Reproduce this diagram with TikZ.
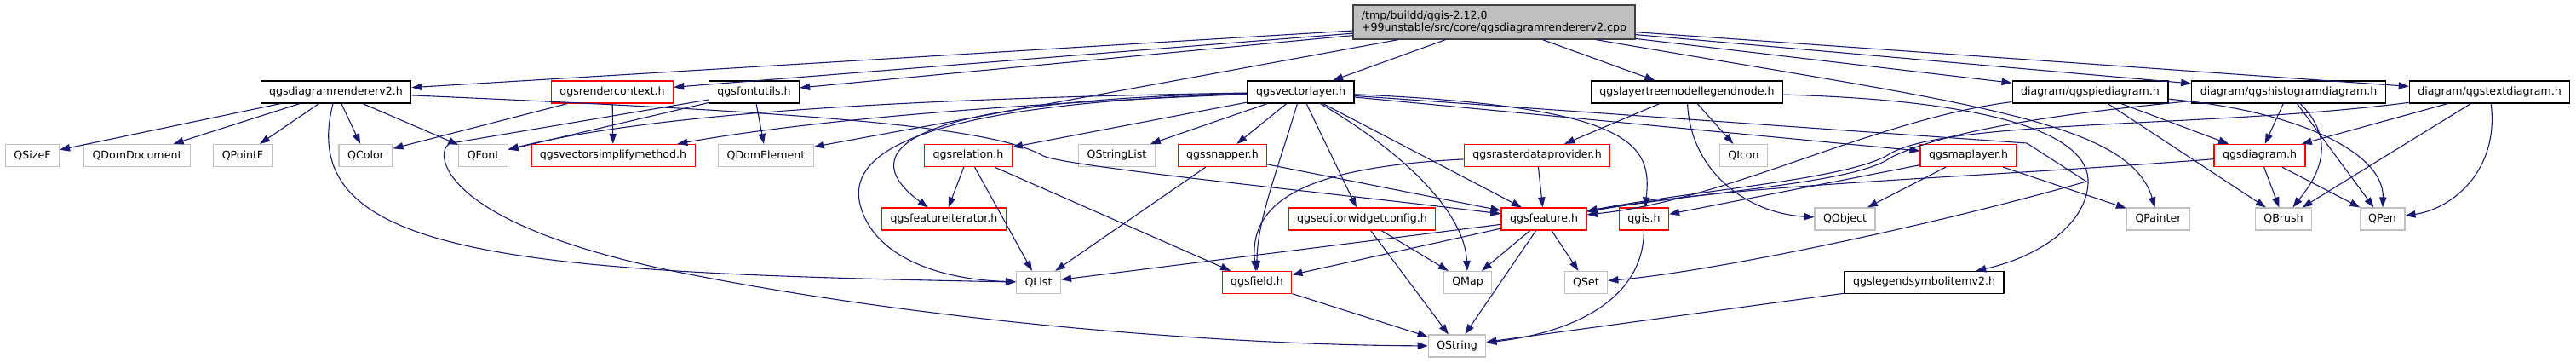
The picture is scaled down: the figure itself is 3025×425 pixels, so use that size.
\documentclass[tikz,border=0pt]{standalone}
\usepackage{fontspec}
\setmainfont{DejaVu Sans}
\usetikzlibrary{arrows.meta}
\definecolor{edgeblue}{HTML}{191970}
\definecolor{sysgrey}{HTML}{BFBFBF}
\definecolor{srcfill}{HTML}{BFBFBF}

\begin{document}
\begin{tikzpicture}[x=0.5pt, y=-0.5pt,
  every node/.style={font=\fontsize{6.3pt}{7pt}\selectfont},
  filebox/.style={draw, fill=white, line width=0.6pt, minimum height=13pt,
    inner xsep=5pt, inner ysep=0pt},
  hdrbox/.style={filebox, draw=black},
  redbox/.style={filebox, draw=red},
  sysbox/.style={filebox, draw=sysgrey},
  srcbox/.style={filebox, draw=black!75, fill=srcfill, align=left,
    minimum height=20pt},
  incl/.style={draw=edgeblue, line width=0.55pt,
    -{Triangle[length=6pt,width=4.2pt]}}]

\useasboundingbox (0,0) rectangle (3025,425);

\node[srcbox] (src) at (1754.5,26)
  {/tmp/buildd/qgis-2.12.0\\+99unstable/src/core/qgsdiagramrendererv2.cpp};

% black: headers, red: headers with hidden includes, grey: Qt classes
\foreach \nm/\x/\y/\txt in {%
  dr2/394.5/108/qgsdiagramrendererv2.h,
  futil/885.5/108/qgsfontutils.h,
  vlayer/1527.5/108/qgsvectorlayer.h,
  ltml/1981/108/qgslayertreemodellegendnode.h,
  legsym/2259.5/331.5/qgslegendsymbolitemv2.h%
}{
  \node[hdrbox] (\nm) at (\x,\y) {\txt};
}
\node[hdrbox] (pie)  at (2454.5,108) {diagram/qgspiediagram.h};
\node[hdrbox] (hist) at (2687.5,108) {diagram/qgshistogramdiagram.h};
\node[hdrbox] (text) at (2923.5,108) {diagram/qgstextdiagram.h};

\foreach \nm/\x/\y/\txt in {%
  rctx/719/108/qgsrendercontext.h,
  vsimp/720/182.5/qgsvectorsimplifymethod.h,
  rel/1137/182.5/qgsrelation.h,
  snap/1435.5/182.5/qgssnapper.h,
  raster/1805/182.5/qgsrasterdataprovider.h,
  maplayer/2311.5/182.5/qgsmaplayer.h,
  diag/2653.5/182.5/qgsdiagram.h,
  fiter/1108.5/257/qgsfeatureiterator.h,
  edcfg/1599.5/257/qgseditorwidgetconfig.h,
  feat/1813/257/qgsfeature.h,
  qgis/1930.5/257/qgis.h,
  field/1476/331.5/qgsfield.h%
}{
  \node[redbox] (\nm) at (\x,\y) {\txt};
}

\foreach \nm/\x/\y/\txt in {%
  qsizef/38/182.5/QSizeF,
  qdomdoc/161/182.5/QDomDocument,
  qpointf/285/182.5/QPointF,
  qcolor/429.5/182.5/QColor,
  qfont/567.5/182.5/QFont,
  qdomel/899.5/182.5/QDomElement,
  qstrlist/1311.5/182.5/QStringList,
  qicon/2047.5/182.5/QIcon,
  qobject/2166.5/257/QObject,
  qpainter/2534.5/257/QPainter,
  qbrush/2681.5/257/QBrush,
  qpen/2797.5/257/QPen,
  qlist/1219.5/331.5/QList,
  qmap/1723.5/331.5/QMap,
  qset/1862.5/331.5/QSet,
  qstring/1711/406/QString%
}{
  \node[sysbox] (\nm) at (\x,\y) {\txt};
}

\foreach \a/\b in {%
  src/dr2, src/rctx, src/futil, src/qdomel, src/vlayer, src/ltml,
  src/pie, src/hist, src/text,
  dr2/qsizef, dr2/qdomdoc, dr2/qpointf, dr2/qcolor, dr2/qfont,
  rctx/qcolor, rctx/vsimp, futil/qfont, futil/qdomel,
  vlayer/rel, vlayer/qstrlist, vlayer/snap, vlayer/edcfg, vlayer/feat,
  vlayer/maplayer, ltml/raster, ltml/qicon, raster/feat,
  rel/fiter, rel/qlist, rel/field, snap/qlist, snap/feat,
  edcfg/qmap, edcfg/qstring,
  feat/qlist, feat/field, feat/qmap, feat/qstring, feat/qset,
  field/qstring, legsym/qstring,
  maplayer/qgis, maplayer/qobject, maplayer/qpainter,
  pie/diag, pie/qbrush, hist/diag, hist/qpen, text/diag, text/qbrush,
  diag/qbrush, diag/qpen%
}{
  \draw[incl] (\a) -- (\b);
}

\draw[incl] (src) .. controls (2300,120) and (2500,140) .. (qpainter);
\draw[incl] (dr2) .. controls (345,300) and (600,320) .. (qlist);
\draw[incl] (dr2) .. controls (900,130) and (1160,145) .. (1225,183)
  .. controls (1255,196) and (1550,225) .. (feat);
\draw[incl] (futil) -- (530,168) .. controls (510,171) and (500,260) .. (800,320)
  .. controls (1100,380) and (1450,405) .. (qstring);
\draw[incl] (vlayer) .. controls (1100,115) and (780,130) .. (qfont);
\draw[incl] (vlayer) .. controls (1100,125) and (900,150) .. (vsimp);
\draw[incl] (vlayer) .. controls (980,120) and (1030,200) .. (fiter);
\draw[incl] (vlayer) .. controls (1150,120) and (990,160) .. (1010,240)
  .. controls (1025,300) and (1100,328) .. (qlist);
\draw[incl] (vlayer) .. controls (1500,200) and (1476,260) .. (field);
\draw[incl] (vlayer) .. controls (1650,180) and (1720,250) .. (qmap);
\draw[incl] (vlayer) .. controls (1920,125) and (1940,170) .. (qgis);
\draw[incl] (vlayer) -- (2380,168) -- (2450,213)
  .. controls (2250,270) and (2000,320) .. (qset);
\draw[incl] (ltml) .. controls (1985,200) and (2050,250) .. (qobject);
\draw[incl] (ltml) .. controls (2350,118) and (2455,160) .. (2452,215)
  .. controls (2450,260) and (2400,300) .. (legsym);
\draw[incl] (raster) .. controls (1560,195) and (1465,225) .. (field);
\draw[incl] (qgis) .. controls (1930,350) and (1850,390) .. (qstring);
\draw[incl] (pie) .. controls (2200,140) and (2030,235) .. (feat);
\draw[incl] (pie) .. controls (2700,130) and (2800,180) .. (qpen);
\draw[incl] (hist) .. controls (2450,130) and (2290,150) .. (2220,185)
  .. controls (2180,215) and (2000,225) .. (feat);
\draw[incl] (hist) .. controls (2750,170) and (2715,215) .. (qbrush);
\draw[incl] (text) .. controls (2600,150) and (2290,140) .. (2220,180)
  .. controls (2175,210) and (2000,222) .. (feat);
\draw[incl] (text) .. controls (2935,200) and (2880,245) .. (qpen);
\draw[incl] (diag) .. controls (2300,210) and (2050,215) .. (feat);

\end{tikzpicture}
\end{document}
